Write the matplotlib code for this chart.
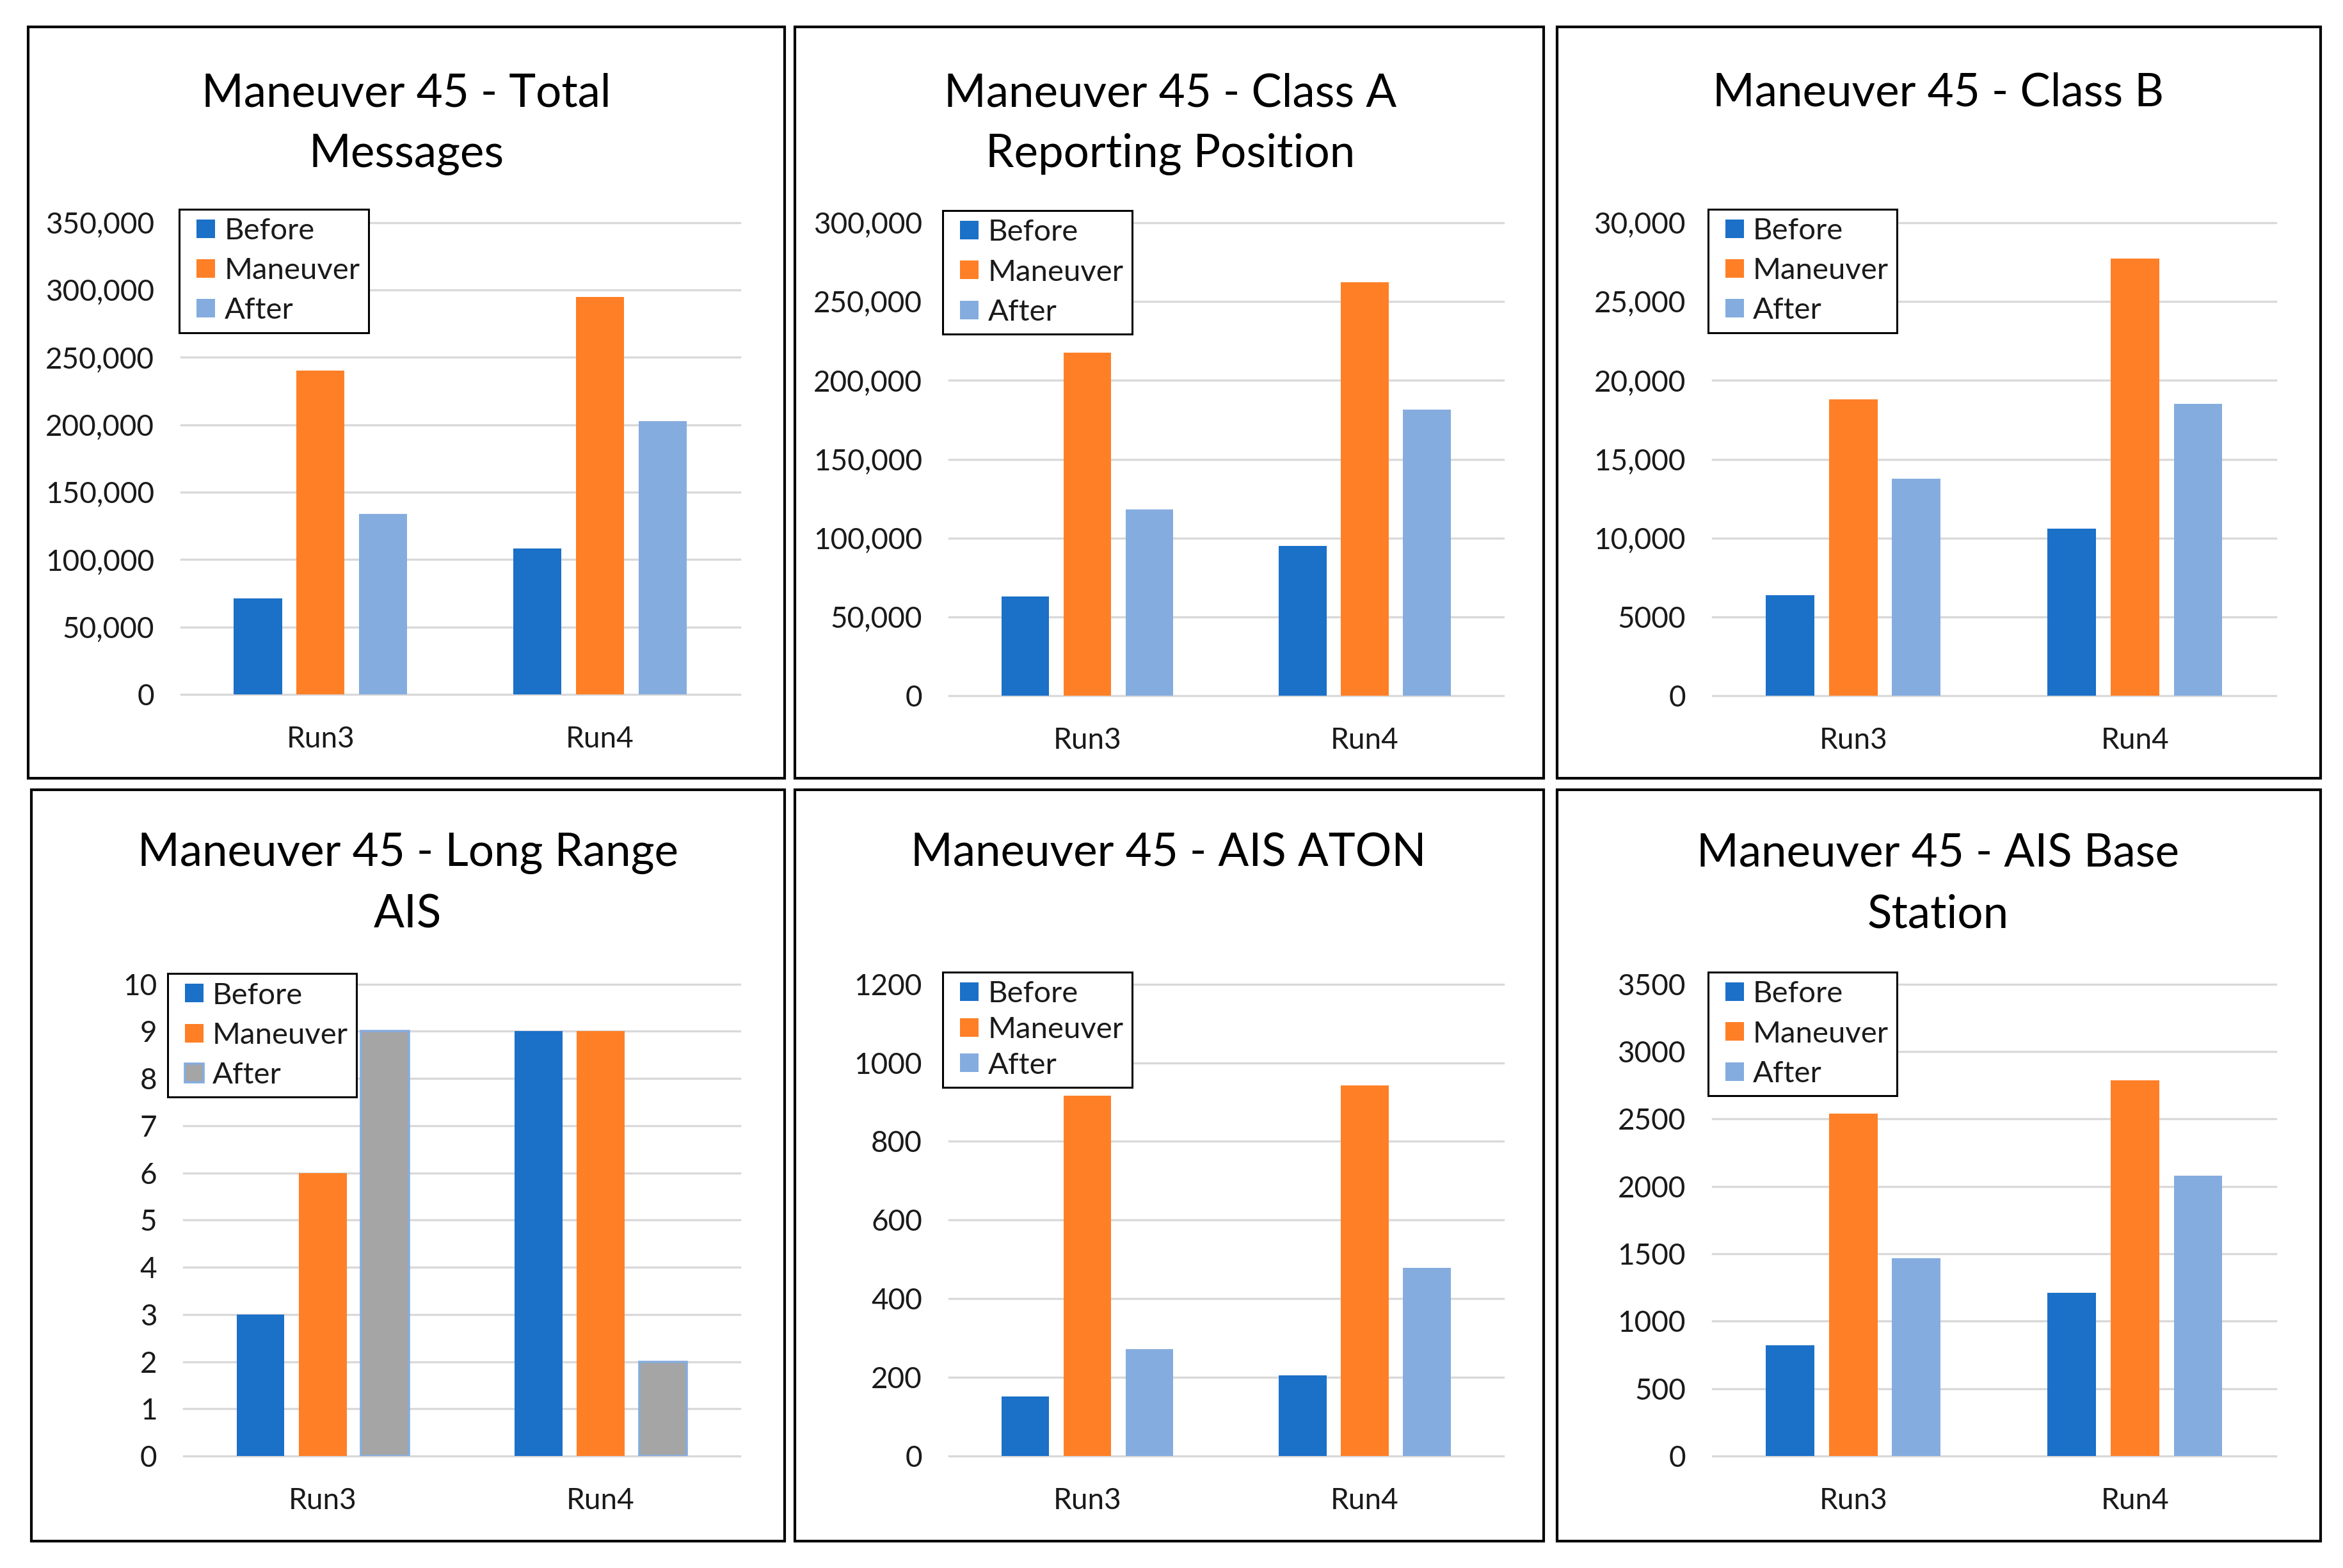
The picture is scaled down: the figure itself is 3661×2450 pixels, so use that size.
import matplotlib
matplotlib.use('Agg')
import matplotlib.pyplot as plt
from matplotlib.patches import Rectangle, Patch
from matplotlib.legend_handler import HandlerPatch

# ---------------- data ----------------
categories = ['Run3', 'Run4']
series_names = ['Before', 'Maneuver', 'After']

title_total = 'Maneuver 45 - Total\nMessages'
title_class_a = 'Maneuver 45 - Class A\nReporting Position'
title_class_b = 'Maneuver 45 - Class B'
title_long_range = 'Maneuver 45 - Long Range\nAIS'
title_aton = 'Maneuver 45 - AIS ATON'
title_base = 'Maneuver 45 - AIS Base\nStation'

total_before = [71000, 108000]
total_maneuver = [240000, 295000]
total_after = [134000, 202500]

class_a_before = [63000, 95000]
class_a_maneuver = [217500, 262000]
class_a_after = [118000, 181500]

class_b_before = [6400, 10600]
class_b_maneuver = [18800, 27700]
class_b_after = [13750, 18500]

long_range_before = [3, 9]
long_range_maneuver = [6, 9]
long_range_after = [9, 2]

aton_before = [152, 205]
aton_maneuver = [916, 943]
aton_after = [271, 478]

base_before = [822, 1210]
base_maneuver = [2540, 2785]
base_after = [1465, 2080]

ticks_total = [0, 50000, 100000, 150000, 200000, 250000, 300000, 350000]
ticklabels_total = ['0', '50,000', '100,000', '150,000', '200,000', '250,000', '300,000', '350,000']
ticks_class_a = [0, 50000, 100000, 150000, 200000, 250000, 300000]
ticklabels_class_a = ['0', '50,000', '100,000', '150,000', '200,000', '250,000', '300,000']
ticks_class_b = [0, 5000, 10000, 15000, 20000, 25000, 30000]
ticklabels_class_b = ['0', '5000', '10,000', '15,000', '20,000', '25,000', '30,000']
ticks_long_range = [0, 1, 2, 3, 4, 5, 6, 7, 8, 9, 10]
ticklabels_long_range = ['0', '1', '2', '3', '4', '5', '6', '7', '8', '9', '10']
ticks_aton = [0, 200, 400, 600, 800, 1000, 1200]
ticklabels_aton = ['0', '200', '400', '600', '800', '1000', '1200']
ticks_base = [0, 500, 1000, 1500, 2000, 2500, 3000, 3500]
ticklabels_base = ['0', '500', '1000', '1500', '2000', '2500', '3000', '3500']

# ---------------- style ----------------
C_BEFORE = '#1B70C8'
C_MANEUVER = '#FF7F27'
C_AFTER = '#85ACDE'
C_GRAY = '#A5A5A5'
C_GRID = '#D9D9D9'
C_TEXT = '#1A1A1A'

plt.rcParams['font.family'] = ['Lato', 'DejaVu Sans']

W, H = 1568.0, 1050.0  # layout reference units


def fx(x):
    return x / W


def fy(y):
    return 1 - y / H


def square_patch(legend, orig_handle, xdescent, ydescent, width, height, fontsize):
    s = height
    return Rectangle((-xdescent + width - s, -ydescent), s, s)


fig = plt.figure(figsize=(36.61, 24.5), dpi=100)

panels = [
    dict(title=title_total, vals=[total_before, total_maneuver, total_after],
         ticks=ticks_total, labels=ticklabels_total,
         box=(19, 18, 525, 521), ax=(121, 149, 495, 465), leg=(120, 140), tx=272, ty=112, ls=0.43),
    dict(title=title_class_a, vals=[class_a_before, class_a_maneuver, class_a_after],
         ticks=ticks_class_a, labels=ticklabels_class_a,
         box=(532, 18, 1033, 521), ax=(635, 149, 1006, 466), leg=(631, 141), tx=783, ty=112, ls=0.43),
    dict(title=title_class_b, vals=[class_b_before, class_b_maneuver, class_b_after],
         ticks=ticks_class_b, labels=ticklabels_class_b,
         box=(1042, 18, 1553, 521), ax=(1146, 149, 1523, 466), leg=(1143, 140), tx=1297, ty=71, ls=0.43),
    dict(title=title_long_range, vals=[long_range_before, long_range_maneuver, long_range_after],
         ticks=ticks_long_range, labels=ticklabels_long_range,
         box=(21, 529, 525, 1032), ax=(123, 659, 495, 975), leg=(112, 652), tx=273, ty=621, ls=0.43,
         gray=True),
    dict(title=title_aton, vals=[aton_before, aton_maneuver, aton_after],
         ticks=ticks_aton, labels=ticklabels_aton,
         box=(532, 529, 1033, 1032), ax=(635, 659, 1006, 975), leg=(631, 651), tx=782, ty=580, ls=0.29),
    dict(title=title_base, vals=[base_before, base_maneuver, base_after],
         ticks=ticks_base, labels=ticklabels_base,
         box=(1042, 529, 1553, 1032), ax=(1146, 659, 1523, 975), leg=(1143, 651), tx=1297, ty=621, ls=0.43),
]

offsets = [-0.224, 0.0, 0.224]
bar_w = 0.172

for p in panels:
    x0, y0, x1, y1 = p['box']
    fig.patches.append(Rectangle((fx(x0), fy(y1)), fx(x1) - fx(x0), fy(y0) - fy(y1),
                                 transform=fig.transFigure, fill=False,
                                 edgecolor='black', linewidth=3.0, zorder=0))
    l, t, r, b = p['ax']
    ax = fig.add_axes([fx(l), fy(b), fx(r) - fx(l), fy(t) - fy(b)])
    gray = p.get('gray', False)
    colors = [C_BEFORE, C_MANEUVER, C_GRAY if gray else C_AFTER]
    xs = list(range(len(categories)))
    handles = []
    for i, (name, vals) in enumerate(zip(series_names, p['vals'])):
        if gray and i == 2:
            ax.bar([x + offsets[i] for x in xs], vals, width=bar_w, color=colors[i],
                   edgecolor=C_AFTER, linewidth=2.6, zorder=3)
            handles.append(Patch(facecolor=colors[i], edgecolor=C_AFTER, linewidth=2.6, label=name))
        else:
            ax.bar([x + offsets[i] for x in xs], vals, width=bar_w, color=colors[i],
                   linewidth=0, zorder=3)
            handles.append(Patch(facecolor=colors[i], edgecolor='none', label=name))
    ax.set_xlim(-0.5, len(categories) - 0.5)
    ax.set_ylim(p['ticks'][0], p['ticks'][-1])
    ax.set_yticks(p['ticks'])
    ax.set_yticklabels(p['labels'])
    ax.set_xticks(xs)
    ax.set_xticklabels(categories)
    for s in ax.spines.values():
        s.set_visible(False)
    ax.yaxis.grid(True, color=C_GRID, linewidth=2.4, zorder=0)
    ax.set_axisbelow(True)
    for gl in ax.get_ygridlines():
        gl.set_clip_on(False)
    ax.tick_params(axis='y', length=0, pad=30, labelsize=33, labelcolor=C_TEXT)
    ax.tick_params(axis='x', length=0, pad=35, labelsize=33, labelcolor=C_TEXT)
    ax.patch.set_visible(False)

    lx, ly = p['leg']
    leg = ax.legend(handles=handles, loc='upper left', bbox_to_anchor=(fx(lx), fy(ly)),
                    bbox_transform=fig.transFigure, borderaxespad=0, fontsize=34,
                    handlelength=0.91, handleheight=0.57, handletextpad=0.3,
                    labelspacing=p['ls'], borderpad=0.28, fancybox=False,
                    framealpha=1, edgecolor='black',
                    handler_map={Patch: HandlerPatch(patch_func=square_patch)})
    leg.get_frame().set_linewidth(2.2)
    leg.set_zorder(10)
    for txt in leg.get_texts():
        txt.set_color(C_TEXT)

    fig.text(fx(p['tx']), fy(p['ty']), p['title'], ha='center', va='baseline',
             fontsize=51, linespacing=1.56, color='black', multialignment='center')

fig.savefig('out.png', dpi=100, facecolor='white')
